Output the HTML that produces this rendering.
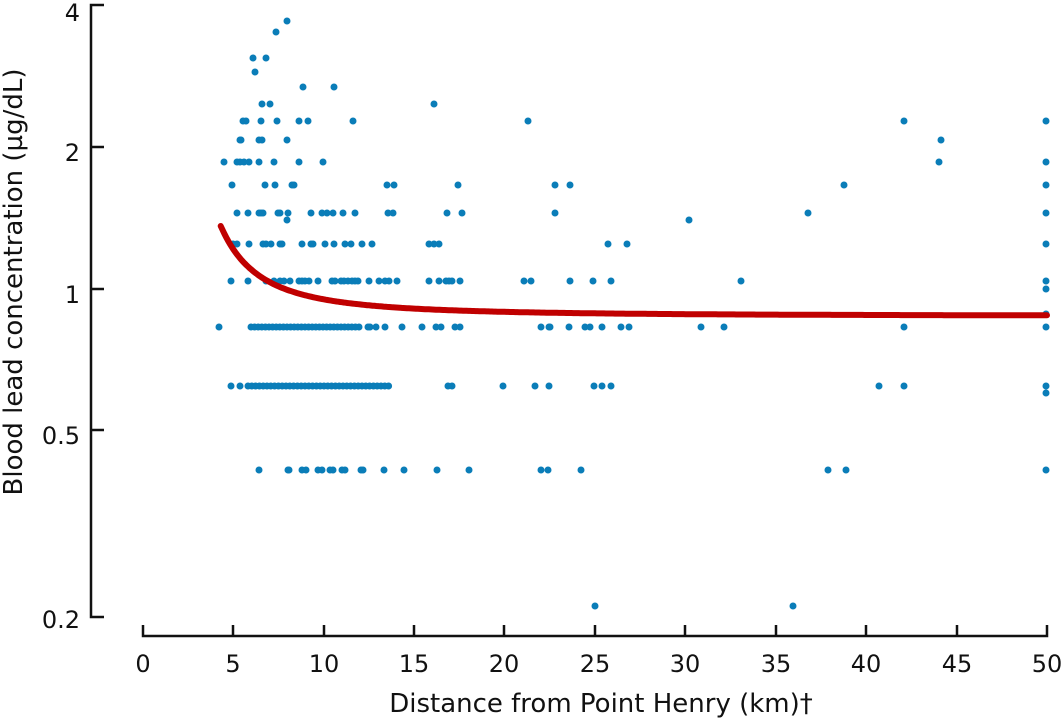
<!DOCTYPE html>
<html><head><meta charset="utf-8"><style>
html,body{margin:0;padding:0;background:#fff;}
svg{display:block;font-family:"DejaVu Sans","Liberation Sans",sans-serif;}
</style></head><body>
<svg id="s" width="1064" height="719" viewBox="0 0 1064 719" xmlns="http://www.w3.org/2000/svg">
<g stroke="#111" stroke-width="2.5" fill="none">
<path d="M104 5H91V617H104"/>
<path d="M91 147H104M91 289H104M91 430H104"/>
<path d="M143 625V636H1047V625"/>
<path d="M233 625V636M324 625V636M414 625V636M504 625V636M595 625V636M685 625V636M776 625V636M866 625V636M957 625V636"/>
</g>
<g font-size="24" fill="#111" text-anchor="end">
<text x="80" y="21">4</text><text x="80" y="161">2</text><text x="80" y="303">1</text><text x="80" y="444">0.5</text><text x="80" y="628">0.2</text>
</g>
<g font-size="24" fill="#111" text-anchor="middle">
<text x="143" y="672">0</text><text x="233" y="672">5</text><text x="324" y="672">10</text><text x="414" y="672">15</text><text x="504" y="672">20</text><text x="595" y="672">25</text><text x="685" y="672">30</text><text x="776" y="672">35</text><text x="866" y="672">40</text><text x="957" y="672">45</text><text x="1047" y="672">50</text>
<text x="601" y="712" font-size="26">Distance from Point Henry (km)†</text>
<text transform="translate(22,282) rotate(-90)" font-size="26">Blood lead concentration (µg/dL)</text>
</g>
<g id="d" fill="#0a7db8"></g>
<path id="c" fill="none" stroke="#c00000" stroke-width="6" stroke-linecap="round"/>
</svg>
<script>
var rows={
21:[287],32:[276],58:[253,266],72:[255],87:[303,334],104:[262,270,434],
121:[243,246,261,277,299,308,353,528,904,1046],
140:[240,241,259,262,287,941],
162:[224,237,240,244,249,259,274,299,323,939,1046],
185:[232,265,275,292,294,387,394,458,555,570,844,1046],
213:[237,248,259,261,263,278,280,288,311,322,327,333,343,355,388,393,447,462,555,808,1046],
220:[287,689],
244:[233,237,249,263,266,271,280,282,302,311,313,325,334,345,351,362,372,429,434,439,608,627,1046],
281:[231,248,266,274,280,284,290,299,302,305,309,318,332,335,341,344,348,352,355,358,369,379,385,389,397,429,439,446,449,452,460,524,531,570,593,611,741,1046],
289:[1046],314:[1046],
327:[219,359,368,370,376,385,402,422,436,441,455,460,541,549,550,569,585,590,602,621,629,701,724,904,1046],
386:[231,240,448,452,503,535,549,594,602,611,879,904,1046],393:[1046],
470:[259,288,289,302,306,318,322,330,333,342,345,361,363,384,404,437,469,541,548,581,828,846,1046],
606:[595,793]};
for(var x=251;x<=357;x+=3.6)rows[327].push(x);
for(var x=248;x<=392;x+=3.8)rows[386].push(x);
var g=document.getElementById('d'),h='';
for(var y in rows)rows[y].forEach(function(x){h+='<circle cx="'+x+'" cy="'+y+'" r="3.5"/>';});
g.innerHTML=h;
var p='';for(var d=4.3;d<=50.01;d+=0.1){var px=143+d*18.08,py=316-1665/(d*d);p+=(p?'L':'M')+px.toFixed(1)+' '+py.toFixed(1);}
document.getElementById('c').setAttribute('d',p);
</script>
</body></html>
